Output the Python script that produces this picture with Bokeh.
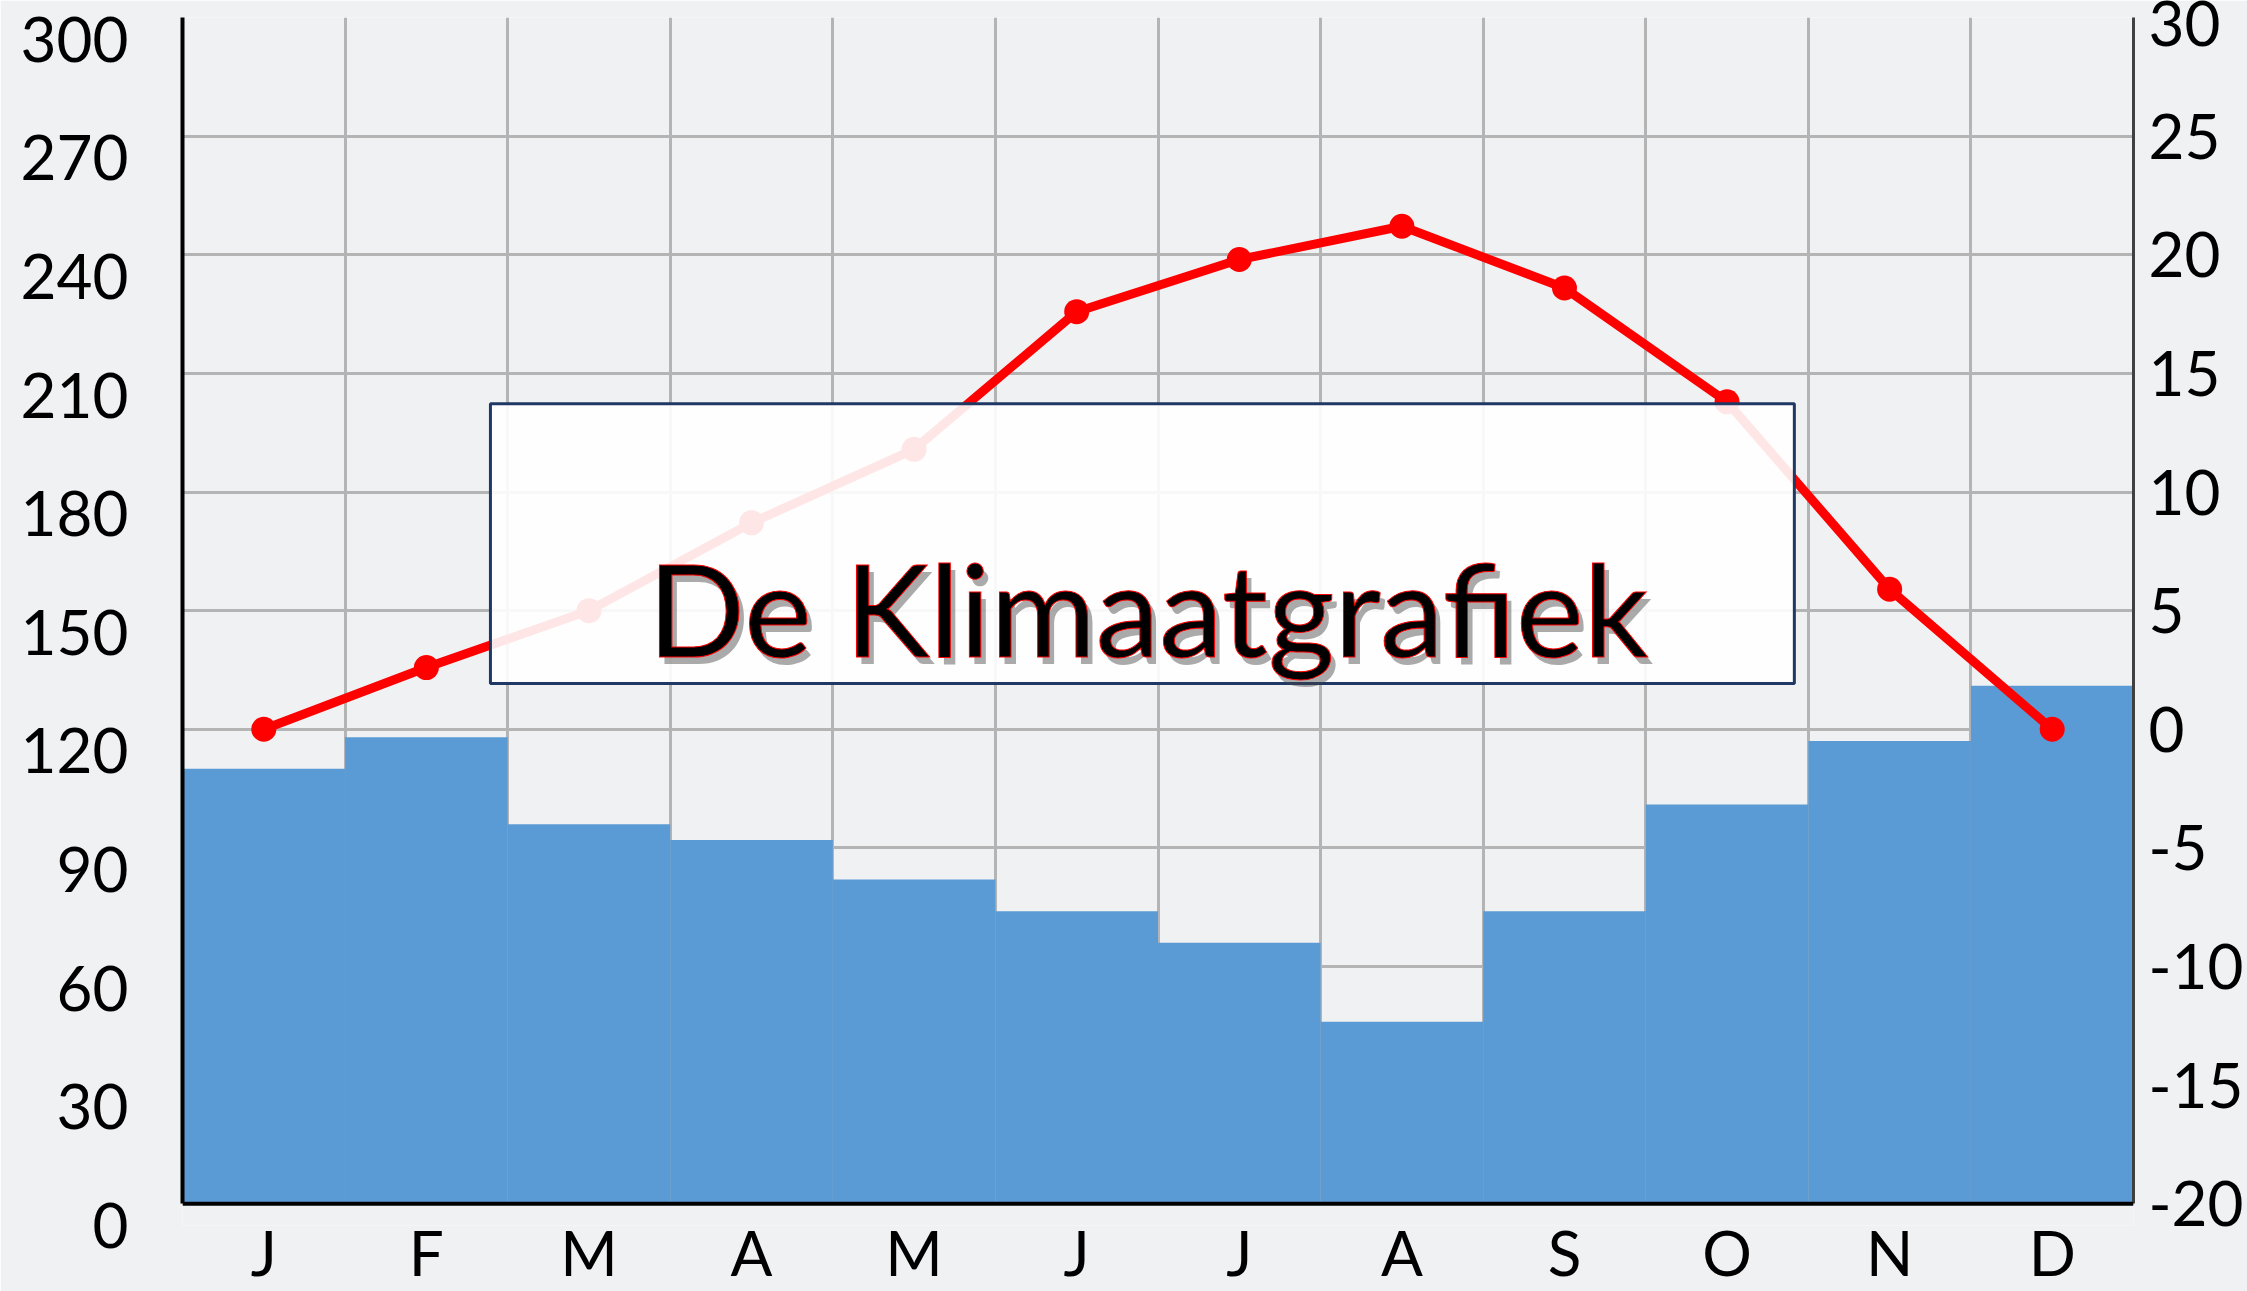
from bokeh.plotting import figure
from bokeh.models import Range1d, LinearAxis, FixedTicker, BoxAnnotation, Label, Span
from bokeh.embed import file_html
from bokeh.resources import INLINE

# ---- data ----
months = ["J", "F", "M", "A", "M", "J", "J", "A", "S", "O", "N", "D"]
precip_mm = [110, 118, 96, 92, 82, 74, 66, 46, 74, 101, 117, 131]
temp_c = [0.0, 2.6, 5.0, 8.7, 11.8, 17.6, 19.8, 21.2, 18.6, 13.8, 5.9, 0.0]
precip_ticks = list(range(0, 301, 30))
temp_ticks = list(range(-20, 31, 5))
title_text = "De Klimaatgrafiek"

BG = "#F0F1F3"
GRID = "#B4B4B4"
FONT = "Lato"
PAD = 5.5          # extra room (mm units) below zero so that left labels can sit below their gridline
MM_PER_DEG = 6.0   # 300 mm  <->  50 degrees

x = list(range(len(months)))

p = figure(width=2247, height=1291, output_backend="svg", toolbar_location=None,
           x_range=Range1d(-0.5, 11.5), y_range=Range1d(-PAD, 300),
           min_border_left=182, min_border_right=114, min_border_top=17, min_border_bottom=64,
           background_fill_color=BG, border_fill_color=BG, outline_line_color=None)
p.extra_y_ranges = {"temp": Range1d(-20 - PAD / MM_PER_DEG, 30),
                    "lbl": Range1d(0, 300 + PAD)}

# grids
p.xgrid.ticker = FixedTicker(ticks=[i - 0.5 for i in range(len(months) + 1)])
p.xgrid.cross_bounds = (0, 300)
p.ygrid.ticker = FixedTicker(ticks=precip_ticks)
for g in (p.xgrid, p.ygrid):
    g.grid_line_color = GRID
    g.grid_line_width = 3

# bottom axis (labels only; the zero line is drawn with a span)
xa = p.xaxis[0]
xa.ticker = FixedTicker(ticks=x)
xa.major_label_overrides = {i: m for i, m in zip(x, months)}
xa.axis_line_color = None

# left spine (primary range, no labels)
spine = p.yaxis[0]
spine.ticker = FixedTicker(ticks=[])
spine.bounds = (0, 300)
spine.axis_line_color = "black"
spine.axis_line_width = 4
spine.major_label_standoff = 0

# left labels
ya = LinearAxis(y_range_name="lbl", ticker=FixedTicker(ticks=precip_ticks))
ya.axis_line_color = None
p.add_layout(ya, "left")

# right axis (temperature)
ra = LinearAxis(y_range_name="temp", ticker=FixedTicker(ticks=temp_ticks), bounds=(-20, 30))
ra.major_label_overrides = {t: str(t) for t in temp_ticks}
p.add_layout(ra, "right")

for ax in (xa, spine, ya, ra):
    ax.major_tick_in = 0
    ax.major_tick_out = 0
    ax.minor_tick_in = 0
    ax.minor_tick_out = 0
    ax.major_label_text_font = FONT
    ax.major_label_text_font_size = "62px"
    ax.major_label_text_color = "black"
xa.major_label_standoff = -11
ya.major_label_standoff = 54
ra.major_label_standoff = 15
ra.axis_line_color = "#404040"
ra.axis_line_width = 3

# precipitation bars
p.vbar(x=x, top=precip_mm, width=1.0, bottom=0, fill_color="#5B9BD5", line_color=None)

# temperature line
p.line(x=x, y=temp_c, y_range_name="temp", line_color="#FF0000", line_width=9, line_join="round")
p.scatter(x=x, y=temp_c, y_range_name="temp", size=25, fill_color="#FF0000", line_color=None)

# x axis line at zero
p.add_layout(Span(location=0, dimension="width", line_color="black", line_width=4))

# title box
box = BoxAnnotation(left=1.394, right=9.414, top=202.3, bottom=131.6,
                    fill_color="white", fill_alpha=0.9,
                    line_color="#1F3864", line_alpha=1.0, line_width=3)
p.add_layout(box)

shadow = Label(x=5.44, y=150.8, text=title_text, text_align="center", text_baseline="alphabetic",
               text_font=FONT, text_font_size="128px", text_color="#444444", text_alpha=0.45,
               x_offset=5, y_offset=-7)
p.add_layout(shadow)
title = Label(x=5.44, y=150.8, text=title_text, text_align="center", text_baseline="alphabetic",
              text_font=FONT, text_font_size="128px", text_color="black",
              text_outline_color="#FF0000")
p.add_layout(title)

open("out.html", "w").write(file_html(p, INLINE))
